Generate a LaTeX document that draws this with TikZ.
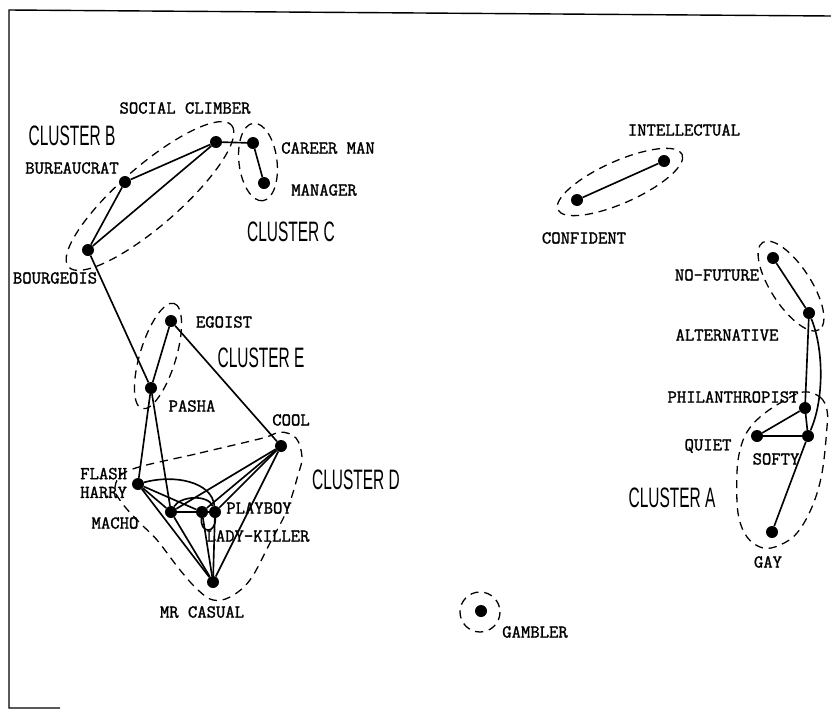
\documentclass[tikz,border=0pt]{standalone}
\usepackage{fontspec}
\usepackage{graphicx}
\usetikzlibrary{calc}
\newfontfamily\lblfont[FakeBold=1.5]{Latin Modern Mono}
\newfontfamily\clfont{Liberation Sans}
\newcommand{\clname}[1]{\scalebox{0.55}[1]{#1}}

\begin{document}
\begin{tikzpicture}[x=0.03cm, y=-0.03cm,
    dot/.style={circle, fill=black, inner sep=0pt, minimum size=0.36cm},
    link/.style={line width=1.4pt},
    hull/.style={line width=1.1pt, dash pattern=on 7pt off 5pt},
    lbl/.style={font=\lblfont\fontsize{15.5}{16}\selectfont, inner sep=0pt},
    clu/.style={font=\clfont\fontsize{24}{24}\selectfont, inner sep=0pt}]
    \useasboundingbox (0,0) rectangle (831,724);
    \draw[line width=1.2pt] (831,16) -- (9,10) -- (9,708) -- (60,708);

    \foreach \n/\x/\y in {soc/216/142, car/253/143, man/264/183, bur/125/182, bou/88/250,
        ego/171/321, pas/151/388, coo/281/446, fla/138/484, mac/171/512, lad/202/512,
        pla/215/512, cas/213/582, gam/481/611, int/664/161, con/577/200, nof/773/258,
        alt/809/313, phi/805/408, qui/757/436, sof/808/436, gay/772/532} {
      \node[dot] (\n) at (\x,\y) {};
    }

    \foreach \n/\x/\y/\t in {soc/185/108/SOCIAL CLIMBER, car/328/148/CAREER MAN, man/324/190/MANAGER,
        bur/72/168/BUREAUCRAT, bou/55/278/BOURGEOIS, ego/224/322/EGOIST, pas/192/406/PASHA,
        coo/291/420/COOL, mac/115/523/MACHO, pla/259/508/PLAYBOY, lad/258/536/LADY-KILLER,
        cas/202/612/MR CASUAL, gam/535/632/GAMBLER, int/684/130/INTELLECTUAL, con/584/238/CONFIDENT,
        nof/717/275/NO-FUTURE, alt/727/335/ALTERNATIVE, phi/733/397/PHILANTHROPIST,
        qui/708/446/QUIET, sof/776/459/SOFTY, gay/768/562/GAY} {
      \node[lbl] (l\n) at (\x,\y) {\t};
    }
    \node[lbl, align=left, anchor=west] (lfla) at (80,483) {FLASH\\HARRY};

    \node[clu] (cluB) at (72,136) {\clname{CLUSTER B}};
    \node[clu] (cluC) at (291,232) {\clname{CLUSTER C}};
    \node[clu] (cluE) at (261,358) {\clname{CLUSTER E}};
    \node[clu] (cluD) at (356,480) {\clname{CLUSTER D}};
    \node[clu] (cluA) at (672,498) {\clname{CLUSTER A}};

    \foreach \a/\b in {soc/bur, soc/bou, bur/bou, soc/car, car/man, bou/pas, ego/pas, ego/coo,
        pas/fla, pas/mac, fla/mac, fla/lad, fla/cas, mac/lad, mac/cas, lad/pla, lad/cas, pla/cas,
        coo/pla, coo/lad, coo/mac, coo/cas, int/con, nof/alt, alt/phi, phi/qui, phi/sof, qui/sof,
        sof/gay} {
      \draw[link] (\a) -- (\b);
    }
    \draw[link] (fla) .. controls (175,474) and (212,482) .. (pla);
    \draw[link] (mac) .. controls (180,496) and (208,494) .. (pla);
    \draw[link] (lad) .. controls (200,534) and (216,534) .. (pla);
    \draw[link] (alt) .. controls (824,350) and (824,400) .. (sof);

    \draw[hull, rotate around={41:(150,196)}] (150,196) ellipse [x radius=108, y radius=30];
    \draw[hull, rotate around={-83:(258,162)}] (258,162) ellipse [x radius=39, y radius=19];
    \draw[hull, rotate around={73:(158,356)}] (158,356) ellipse [x radius=55, y radius=18];
    \draw[hull, rotate around={24:(620,182)}] (620,182) ellipse [x radius=68, y radius=21];
    \draw[hull, rotate around={-57:(791,286)}] (791,286) ellipse [x radius=52, y radius=20];
    \draw[hull] (480,612) circle [radius=20];
    \draw[hull] plot[smooth cycle, tension=0.6] coordinates {(130,470) (200,453) (263,438) (280,432)
        (296,438) (302,457) (298,475) (287,510) (270,543) (250,580) (230,597) (213,600) (198,590)
        (180,570) (157,540) (140,523) (122,503) (115,487)};
    \draw[hull] plot[smooth cycle, tension=0.6] coordinates {(803,392) (820,397) (827,410) (827,427)
        (822,473) (812,507) (797,533) (780,545) (763,548) (747,537) (738,513) (737,473) (740,450)
        (747,432) (760,417) (780,403)};
  \end{tikzpicture}
\end{document}
